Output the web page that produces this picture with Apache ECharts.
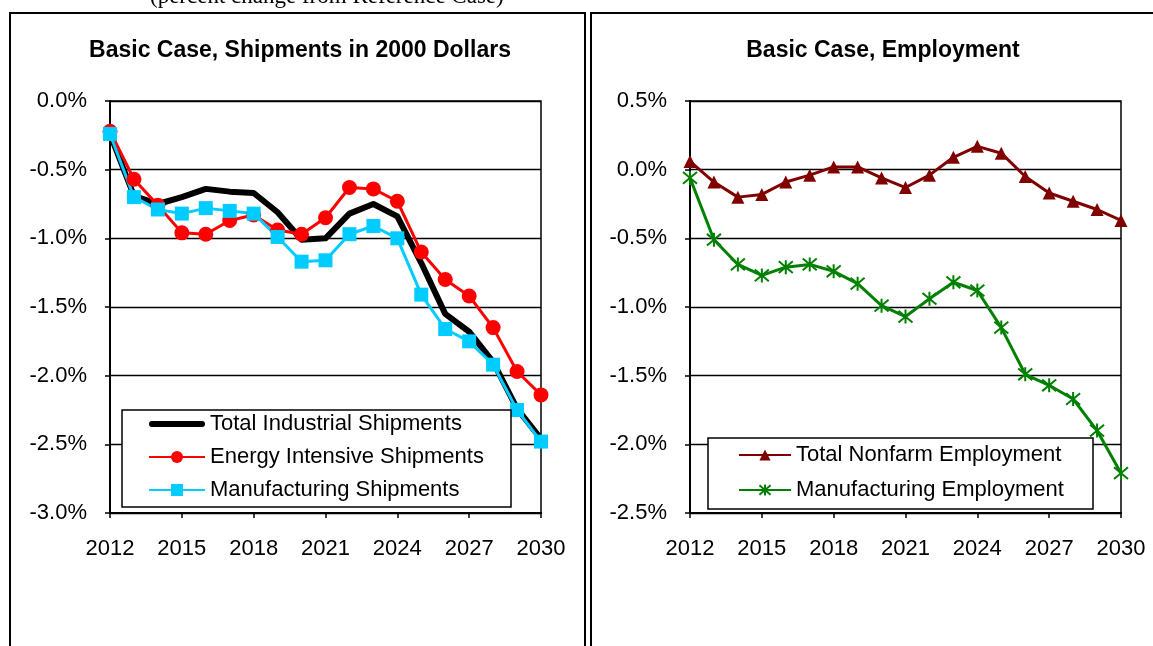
<!DOCTYPE html>
<html>
<head>
<meta charset="utf-8">
<script src="https://cdn.jsdelivr.net/npm/echarts@6/dist/echarts.min.js"></script>
<style>
  html, body { margin: 0; padding: 0; background: #fff; }
  #chart { width: 1153px; height: 646px; }
</style>
</head>
<body>
<div id="chart"></div>
<script>
// Years on the horizontal axis
const years = ['2012','2013','2014','2015','2016','2017','2018','2019','2020','2021',
               '2022','2023','2024','2025','2026','2027','2028','2029','2030'];

// Shipments, percent change from the reference case
const totalShipments = [-0.24, -0.69, -0.75, -0.70, -0.64, -0.66, -0.67, -0.81, -1.01, -1.00,
                        -0.82, -0.75, -0.84, -1.18, -1.55, -1.68, -1.90, -2.24, -2.46];
const energyShipments = [-0.22, -0.57, -0.76, -0.96, -0.97, -0.87, -0.83, -0.94, -0.97, -0.85,
                         -0.63, -0.64, -0.73, -1.10, -1.30, -1.42, -1.65, -1.97, -2.14];
const manufShipments = [-0.24, -0.70, -0.79, -0.82, -0.78, -0.80, -0.82, -0.99, -1.17, -1.16,
                        -0.97, -0.91, -1.00, -1.41, -1.66, -1.75, -1.92, -2.25, -2.48];

// Employment, percent change from the reference case
const nonfarmEmployment = [0.06, -0.09, -0.20, -0.18, -0.09, -0.04, 0.02, 0.02, -0.06, -0.13,
                           -0.04, 0.09, 0.17, 0.12, -0.05, -0.17, -0.23, -0.29, -0.37];
const manufEmployment = [-0.06, -0.51, -0.69, -0.77, -0.71, -0.69, -0.74, -0.83, -0.99, -1.07,
                         -0.94, -0.82, -0.88, -1.15, -1.49, -1.57, -1.67, -1.90, -2.21];

const titles = ['Basic Case, Shipments in 2000 Dollars', 'Basic Case, Employment'];
const caption = '(percent change from Reference Case)';
const seriesNames = ['Total Industrial Shipments', 'Energy Intensive Shipments', 'Manufacturing Shipments',
                     'Total Nonfarm Employment', 'Manufacturing Employment'];

const FONT = "'Liberation Sans', Arial, sans-serif";
const FS = 22;
const starPath = 'path://M0,0L10,10M10,0L0,10M5,-1L5,11';
// thick rounded bar for the legend entry of the heavy line (invisible corner points keep the box 56x15)
const thickBarIcon = 'path://M0,0L0,0M56,15L56,15M3,4.5L53,4.5A3,3,0,0,1,53,10.5L3,10.5A3,3,0,0,1,3,4.5Z';

function xAxisFor(idx) {
  return {
    type: 'category', gridIndex: idx, data: years, boundaryGap: false,
    axisLine: { onZero: false, lineStyle: { color: '#000', width: 2 } },
    axisTick: { show: true, interval: 2, length: 5, lineStyle: { color: '#000', width: 1.5 } },
    axisLabel: { interval: 2, color: '#000', fontFamily: FONT, fontSize: FS, margin: 25 },
    splitLine: { show: false }
  };
}
function yAxisFor(idx, min, max) {
  return {
    type: 'value', gridIndex: idx, min: min, max: max, interval: 0.5,
    axisLine: { show: true, onZero: false, lineStyle: { color: '#000', width: 2 } },
    axisTick: { show: true, length: 5, lineStyle: { color: '#000', width: 1.5 } },
    axisLabel: { color: '#000', fontFamily: FONT, fontSize: FS, margin: 23,
                 formatter: v => v.toFixed(1) + '%' },
    splitLine: { show: true, lineStyle: { color: '#000', width: 1.3 } }
  };
}

const chart = echarts.init(document.getElementById('chart'));
chart.setOption({
  animation: false,
  backgroundColor: '#fff',
  grid: [
    { left: 110, top: 101, width: 431, height: 412, show: true, borderColor: '#000', borderWidth: 1.5, backgroundColor: 'transparent' },
    { left: 690, top: 101, width: 431, height: 412, show: true, borderColor: '#000', borderWidth: 1.5, backgroundColor: 'transparent' }
  ],
  xAxis: [xAxisFor(0), xAxisFor(1)],
  yAxis: [yAxisFor(0, -3, 0), yAxisFor(1, -2.5, 0.5)],
  legend: [
    {
      data: [{ name: seriesNames[0], icon: thickBarIcon }, seriesNames[1], seriesNames[2]],
      orient: 'vertical', left: 148, top: 413, padding: 0,
      itemWidth: 56, itemHeight: 15, itemGap: 11,
      textStyle: { color: '#000', fontFamily: FONT, fontSize: FS }
    },
    {
      data: seriesNames.slice(3), orient: 'vertical', left: 738, top: 444, padding: 0,
      itemWidth: 52, itemHeight: 14, itemGap: 13,
      textStyle: { color: '#000', fontFamily: FONT, fontSize: FS }
    }
  ],
  graphic: [
    // panel frames
    { type: 'rect', z: 0, shape: { x: 10, y: 13, width: 575, height: 660 },
      style: { fill: 'none', stroke: '#000', lineWidth: 2 } },
    { type: 'rect', z: 0, shape: { x: 591, y: 13, width: 620, height: 660 },
      style: { fill: 'none', stroke: '#000', lineWidth: 2 } },
    // legend boxes
    { type: 'rect', z: 3, shape: { x: 122, y: 410, width: 389, height: 97 },
      style: { fill: '#fff', stroke: '#000', lineWidth: 1.5 } },
    { type: 'rect', z: 3, shape: { x: 708, y: 438, width: 385, height: 71 },
      style: { fill: '#fff', stroke: '#000', lineWidth: 1.5 } },
    // panel titles
    { type: 'text', z: 5, style: { text: titles[0], x: 300, y: 51, textAlign: 'center', textVerticalAlign: 'middle',
      font: 'bold 23px ' + FONT, fill: '#000' } },
    { type: 'text', z: 5, style: { text: titles[1], x: 883, y: 51, textAlign: 'center', textVerticalAlign: 'middle',
      font: 'bold 23px ' + FONT, fill: '#000' } },
    // caption above the panels
    { type: 'text', z: 5, style: { text: caption, x: 150, y: -3, textAlign: 'left', textVerticalAlign: 'middle',
      font: "23px 'Liberation Serif', 'Times New Roman', serif", fill: '#000' } }
  ],
  series: [
    {
      name: seriesNames[0], type: 'line', xAxisIndex: 0, yAxisIndex: 0, data: totalShipments,
      symbol: 'none', z: 2,
      lineStyle: { color: '#000', width: 6, cap: 'round', join: 'round' }, itemStyle: { color: '#000' }
    },
    {
      name: seriesNames[1], type: 'line', xAxisIndex: 0, yAxisIndex: 0, data: energyShipments,
      symbol: 'circle', symbolSize: 15, z: 2,
      lineStyle: { color: '#ff0000', width: 3 }, itemStyle: { color: '#ff0000' }
    },
    {
      name: seriesNames[2], type: 'line', xAxisIndex: 0, yAxisIndex: 0, data: manufShipments,
      symbol: 'rect', symbolSize: 14, z: 2,
      lineStyle: { color: '#00ccff', width: 3 }, itemStyle: { color: '#00ccff' }
    },
    {
      name: seriesNames[3], type: 'line', xAxisIndex: 1, yAxisIndex: 1, data: nonfarmEmployment,
      symbol: 'triangle', symbolSize: 13, z: 2,
      lineStyle: { color: '#800000', width: 3 }, itemStyle: { color: '#800000' }
    },
    {
      name: seriesNames[4], type: 'line', xAxisIndex: 1, yAxisIndex: 1, data: manufEmployment,
      symbol: starPath, symbolSize: 14, z: 2,
      lineStyle: { color: '#008000', width: 3 },
      itemStyle: { color: '#008000', borderColor: '#008000', borderWidth: 2 }
    }
  ]
});
</script>
</body>
</html>
